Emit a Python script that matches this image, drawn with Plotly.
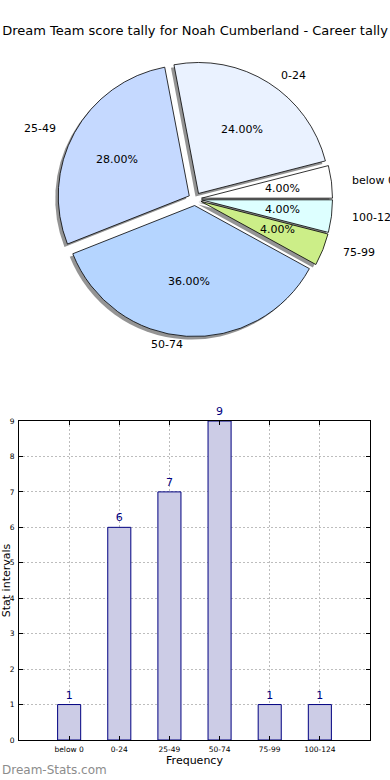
import math
import plotly.graph_objects as go

# ---------------- data ----------------
categories = ["below 0", "0-24", "25-49", "50-74", "75-99", "100-124"]
counts = [1, 6, 7, 9, 1, 1]
pie_colors = ["#ffffff", "#eaf2ff", "#c5d9ff", "#b5d5ff", "#ccee88", "#ddffff"]
title_text = "Dream Team score tally for Noah Cumberland - Career tally"
y_ticks = list(range(0, 10))

# ---------------- geometry ----------------
W, H = 390, 780
FONT = "DejaVu Sans"
cx, cy, r, pull = 195.0, 199.0, 131.0, 0.05
box = 2 * r * (1 + pull)
dom_y = [1 - (cy + box / 2) / H, 1 - (cy - box / 2) / H]
sh = 3.0  # shadow offset px
total = sum(counts)
# plotly (counterclockwise) puts the END of the first slice at `rotation`;
# make the first slice START at 3 o'clock like matplotlib's startangle=0
rot = 90 - 360 * counts[0] / total
kx, ky = 1.04, 0.97  # the original pie is slightly elliptical

fig = go.Figure()

# shadow pie (shifted left and down)
fig.add_trace(go.Pie(
    labels=categories, values=counts, sort=False, direction="counterclockwise",
    rotation=rot, pull=[pull] * len(counts), textinfo="none", hoverinfo="skip",
    marker=dict(colors=["rgba(60,60,60,0.55)"] * len(counts), line=dict(width=0)),
    domain=dict(x=[0, 1 - 2 * sh / W], y=[dom_y[0] - sh / H, dom_y[1] - sh / H]),
    showlegend=False,
))
# main pie
fig.add_trace(go.Pie(
    labels=categories, values=counts, sort=False, direction="counterclockwise",
    rotation=rot, pull=[pull] * len(counts), textinfo="none",
    marker=dict(colors=pie_colors, line=dict(color="#000000", width=0.8)),
    domain=dict(x=[0, 1], y=dom_y),
    showlegend=False,
))

# pie labels & percentages (matplotlib style)
annotations = []
start = 0.0
for cat, v in zip(categories, counts):
    frac = v / total
    mid = math.radians((start + frac / 2) * 360)
    start += frac
    c, s = math.cos(mid), math.sin(mid)
    d = (1.1 + pull) * r
    annotations.append(dict(
        x=(cx + d * c * kx) / W, y=1 - (cy - d * s * ky) / H, xref="paper", yref="paper",
        text=cat, showarrow=False, xanchor="left" if c > 0 else "right",
        yanchor="middle", font=dict(family=FONT, size=11, color="#000000"),
    ))
    d = (0.6 + pull) * r
    annotations.append(dict(
        x=(cx + d * c * kx) / W, y=1 - (cy - d * s * ky) / H, xref="paper", yref="paper",
        text=f"{frac * 100:.2f}%", showarrow=False, xanchor="center",
        yanchor="middle", font=dict(family=FONT, size=11, color="#000000"),
    ))

# ---------------- bar chart ----------------
fig.add_trace(go.Bar(
    x=categories, y=counts, width=0.46,
    marker=dict(color="#cccce6", line=dict(color="#000080", width=1)),
    text=[str(v) for v in counts], textposition="outside", cliponaxis=False,
    textfont=dict(family=FONT, size=11, color="#000080"),
    showlegend=False, xaxis="x", yaxis="y",
))

annotations.append(dict(
    x=0, y=1 - 770 / H, xref="paper", yref="paper", text="Dream-Stats.com",
    showarrow=False, xanchor="left", yanchor="middle",
    font=dict(family=FONT, size=12, color="#8c8c8c"),
))

grid = dict(showgrid=True, gridcolor="#bdbdbd", griddash="2px,2px", gridwidth=1)
fig.update_layout(
    width=W, height=H, margin=dict(l=0, r=0, t=0, b=0, autoexpand=False),
    paper_bgcolor="white", plot_bgcolor="white",
    font=dict(family=FONT, color="#000000"),
    title=dict(text=title_text, x=0.5, xanchor="center", y=1 - 30 / H, yanchor="middle",
               font=dict(family=FONT, size=13, color="#000000")),
    xaxis=dict(domain=[19 / W, 370 / W], anchor="y", range=[-1, 6], type="category",
               automargin=False,
               showline=True, linecolor="#000000", linewidth=1, mirror="ticks",
               ticks="inside", ticklen=4, tickcolor="#000000", ticklabelstandoff=2,
               tickfont=dict(family=FONT, size=7.5, color="#000000"),
               title=dict(text="Frequency", font=dict(family=FONT, size=11), standoff=2),
               layer="above traces", zeroline=False, **grid),
    yaxis=dict(domain=[1 - 740 / H, 1 - 421 / H], anchor="x", range=[0, 9],
               automargin=False,
               tickvals=y_ticks, showline=True, linecolor="#000000", linewidth=1,
               mirror="ticks", ticks="inside", ticklen=4, tickcolor="#000000",
               ticklabelstandoff=2,
               tickfont=dict(family=FONT, size=7.5, color="#000000"),
               title=dict(text="Stat intervals", font=dict(family=FONT, size=11), standoff=0),
               layer="above traces", zeroline=False, **grid),
    annotations=annotations,
)

fig.write_html("out.html", config={"displayModeBar": False},
               post_script="document.body.style.margin='0';")
